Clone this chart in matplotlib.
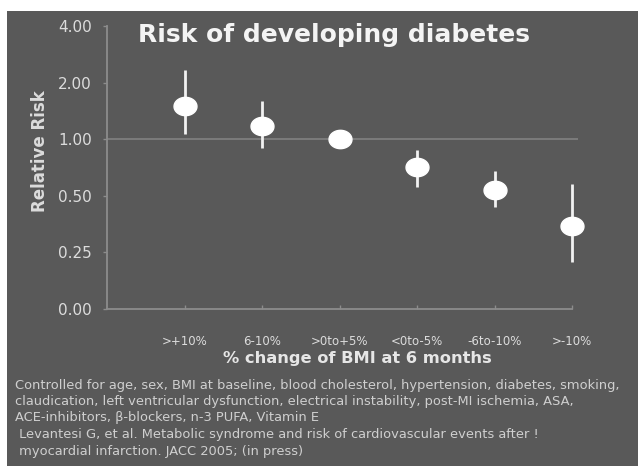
import numpy as np
import matplotlib
matplotlib.use("Agg")
import matplotlib.pyplot as plt
from matplotlib.path import Path
from matplotlib.patches import Rectangle
from matplotlib.ticker import FixedLocator, FixedFormatter, NullLocator

# BMI change categories and relative risk (with 95% CI)
categories = [">+10%", "6-10%", ">0to+5%", "<0to-5%", "-6to-10%", ">-10%"]
relative_risk = [1.50, 1.17, 1.00, 0.71, 0.535, 0.344]
ci_low = [1.06, 0.895, 1.00, 0.555, 0.434, 0.221]
ci_high = [2.33, 1.59, 1.00, 0.88, 0.675, 0.576]

# Log-spaced axis ticks (the lowest gridline is labelled 0.00)
ytick_values = [0.125, 0.25, 0.5, 1.0, 2.0, 4.0]
ytick_labels = ["0.00", "0.25", "0.50", "1.00", "2.00", "4.00"]

title = "Risk of developing diabetes"
xlabel = "% change of BMI at 6 months"
ylabel = "Relative Risk"
footnotes = [
    "Controlled for age, sex, BMI at baseline, blood cholesterol, hypertension, diabetes, smoking,",
    "claudication, left ventricular dysfunction, electrical instability, post-MI ischemia, ASA,",
    "ACE-inhibitors, \u03b2-blockers, n-3 PUFA, Vitamin E",
    " Levantesi G, et al. Metabolic syndrome and risk of cardiovascular events after !",
    " myocardial infarction. JACC 2005; (in press)",
]

BG = "#595959"
AXIS = "#8c8c8c"
TEXT = "#dcdcdc"

W, H = 638, 466
fig = plt.figure(figsize=(W / 100, H / 100), dpi=100, facecolor="white")
# grey slide panel with a thin white margin at top and left
fig.patches.append(Rectangle((7 / W, 0), 1 - 7 / W, 1 - 11 / H,
                             transform=fig.transFigure, facecolor=BG,
                             edgecolor="none", zorder=-5))

ax = fig.add_axes([107 / W, 1 - 309 / H, 465 / W, 283 / H])
ax.set_zorder(2)
ax.set_facecolor("none")
ax.set_yscale("log", base=2)
ax.set_ylim(0.125, 4.0)
ax.set_xlim(0, 6)

x = np.arange(1, len(categories) + 1)

# reference line at RR = 1
ax.hlines(1.0, 0, 6.08, color="#7e7e7e", lw=1.3, clip_on=False, zorder=1)

# confidence intervals
ax.vlines(x, ci_low, ci_high, color="#f2f2f2", lw=2.0, zorder=2, clip_on=False)

# oval markers
theta = np.linspace(0, 2 * np.pi, 60)
oval = Path(np.column_stack([1.25 * np.cos(theta), np.sin(theta)]), closed=True)
ax.plot(x, relative_risk, linestyle="none", marker=oval, markersize=16.5,
        markerfacecolor="white", markeredgecolor="white", zorder=3,
        clip_on=False)

for s in ["top", "right"]:
    ax.spines[s].set_visible(False)
for s in ["left", "bottom"]:
    ax.spines[s].set_color(AXIS)
    ax.spines[s].set_linewidth(1.3)

ax.yaxis.set_major_locator(FixedLocator(ytick_values))
ax.yaxis.set_major_formatter(FixedFormatter(ytick_labels))
ax.yaxis.set_minor_locator(NullLocator())
ax.tick_params(axis="y", which="major", direction="out", length=3, width=1,
               color=AXIS, labelcolor=TEXT, labelsize=11, pad=8)

ax.set_xticks(x)
ax.set_xticklabels(categories)
ax.tick_params(axis="x", direction="in", length=3, width=1, color=AXIS,
               labelcolor=TEXT, labelsize=8.5, pad=19)

fig.text(334 / W, 1 - 35 / H, title, ha="center", va="center",
         fontsize=18, fontweight="bold", color="#f4f4f4")
fig.text(40 / W, 1 - 151 / H, ylabel, ha="center", va="center", rotation=90,
         fontsize=12, fontweight="bold", color=TEXT)
fig.text(357 / W, 1 - 358 / H, xlabel, ha="center", va="center",
         fontsize=11.7, fontweight="bold", color="#e6e6e6")

for i, line in enumerate(footnotes):
    fig.text(15 / W, 1 - (385 + 16.5 * i) / H, line, ha="left", va="center",
             fontsize=9.4, color="#cfcfcf")

fig.savefig("out.png", dpi=100, facecolor=fig.get_facecolor())
